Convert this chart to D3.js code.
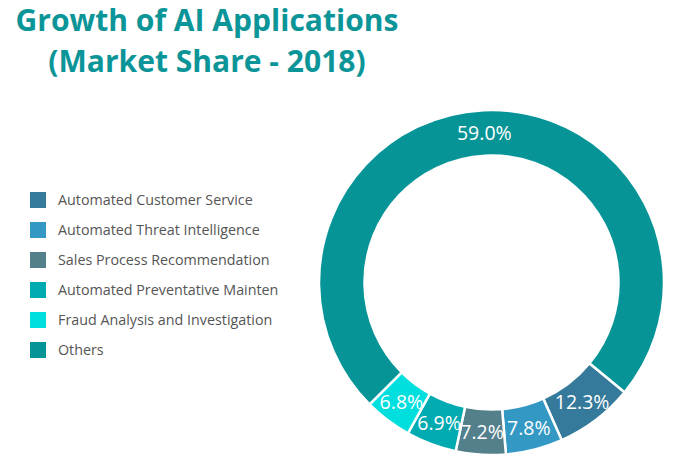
<!DOCTYPE html>
<html>
<head>
<meta charset="utf-8">
<script src="https://cdn.jsdelivr.net/npm/d3@7"></script>
<style>
  body { margin: 0; background: #fff; }
  svg { display: block; font-family: "Open Sans", sans-serif; }
</style>
</head>
<body>
<script>
// categories in legend order
const categories = [
    "Automated Customer Service",
    "Automated Threat Intelligence",
    "Sales Process Recommendation",
    "Automated Preventative Mainten",
    "Fraud Analysis and Investigation",
    "Others"
];
// printed shares (labels on the ring)
const shareLabels = [12.3, 7.8, 7.2, 6.9, 6.8, 59.0];
const arcSizes = [26.5, 19.2, 16.8, 17, 16, 264.5];
const colors = ["#35799b", "#3399c4", "#54808c", "#00aab1", "#00dede", "#069497"];

const titleLines = ["Growth of AI Applications", "(Market Share - 2018)"];

const width = 681, height = 475;

const svg = d3.select("body").append("svg")
    .attr("width", width)
    .attr("height", height);

// title
const title = svg.append("g");
const titleCenter = 207;
titleLines.forEach((t, i) => {
    title.append("text")
        .attr("x", titleCenter)
        .attr("y", i == 0 ? 31 : 72)
        .attr("text-anchor", "middle")
        .style("font-size", "34px")
        .style("font-weight", 700)
        .style("fill", "#0c9598")
        .text(t);
});
// shrink first line to fit the reference width
const t0 = title.select("text").node();
const w0 = t0.getComputedTextLength();
const fs = 34 * 383 / w0;
title.selectAll("text").style("font-size", fs + "px");

// legend
const legend = svg.append("g").attr("transform", "translate(30,192)");
const rows = legend.selectAll("g")
    .data(categories)
    .enter()
    .append("g")
    .attr("transform", (d, i) => `translate(0,${i * 30})`);

rows.append("rect")
    .attr("width", 16)
    .attr("height", 16)
    .style("fill", (d, i) => colors[i]);

rows.append("text")
    .attr("x", 28)
    .attr("y", 13)
    .style("font-size", "14.3px")
    .style("fill", "#555")
    .text(d => d);

// donut
const cx = 491.5, cy = 282.5;
const outer = 172.5, inner = 127;

const pie = d3.pie()
    .sort(null)
    .value(d => d)
    .startAngle(129.5 * Math.PI / 180)
    .endAngle((129.5 + 360) * Math.PI / 180);

const arc = d3.arc()
    .innerRadius(inner)
    .outerRadius(outer);

const ring = svg.append("g")
    .attr("transform", `translate(${cx},${cy})`);

const slices = pie(arcSizes);

ring.selectAll("path")
    .data(slices)
    .enter()
    .append("path")
    .attr("d", arc)
    .style("fill", (d, i) => colors[i])
    .style("stroke", "#fff")
    .style("stroke-width", 2.5);

ring.selectAll(".lbl")
    .data(slices)
    .enter()
    .append("text")
    .attr("class", "lbl")
    .attr("transform", d => `translate(${arc.centroid(d)})`)
    .attr("text-anchor", "middle")
    .attr("dy", "0.36em")
    .style("font-size", "19.5px")
    .style("fill", "#fff")
    .text((d, i) => shareLabels[i].toFixed(1) + "%");
</script>
</body>
</html>
